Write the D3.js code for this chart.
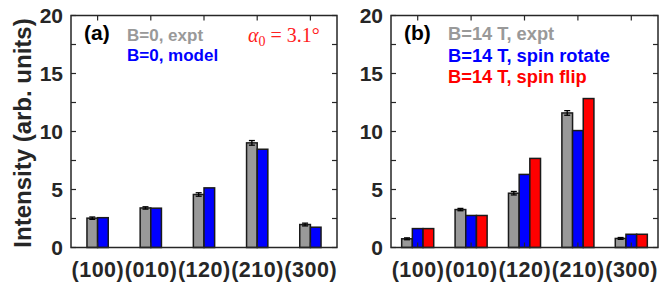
<!DOCTYPE html>
<html><head><meta charset="utf-8">
<script src="https://cdn.jsdelivr.net/npm/d3@7"></script>
<style>
body{margin:0;background:#fff;}
text{font-family:"Liberation Sans",Arial,sans-serif;font-weight:bold;}
</style></head>
<body><svg id="c" width="670" height="284"></svg>
<script>
const categories = ["(100)","(010)","(120)","(210)","(300)"];
const yTicks = [0,5,10,15,20];
// panel (a)
const aExpt = [2.53,3.41,4.57,9.02,1.98];
const aExptErr = [0.1,0.1,0.15,0.2,0.12];
const aModel = [2.57,3.39,5.14,8.47,1.75];
// panel (b)
const bExpt = [0.75,3.27,4.68,11.6,0.78];
const bExptErr = [0.08,0.1,0.15,0.2,0.08];
const bRotate = [1.63,2.76,6.3,10.08,1.14];
const bFlip = [1.63,2.76,7.68,12.84,1.14];

const GRAY="#999999", BLUE="#0000ff", RED="#ff0000", INK="#262626";
const svg = d3.select("#c");
const yTop=15.5, yBot=247.5;

function panel(x0,x1,series,colors,err,letter,legend,legX,legY0,legDy,legFs){
  const g = svg.append("g");
  const x = d3.scaleLinear().domain([0.5,5.5]).range([x0,x1]);
  const y = d3.scaleLinear().domain([0,20]).range([yBot,yTop]);
  const n = series.length, w = 0.2;
  series.forEach((vals,j)=>{
    g.selectAll(null).data(vals).enter().append("rect")
      .attr("x",(d,i)=>x(i+1+(j-(n-1)/2)*w-w/2))
      .attr("width",x(w)-x(0))
      .attr("y",d=>y(d)).attr("height",d=>y(0)-y(d))
      .attr("fill",colors[j]).attr("stroke","#1a1a1a").attr("stroke-width",1.5);
  });
  const ex = i=>x(i+1+(0-(n-1)/2)*w);
  series[0].forEach((v,i)=>{
    const e=err[i], cx=ex(i);
    g.append("line").attr("x1",cx).attr("x2",cx).attr("y1",y(v-e)).attr("y2",y(v+e)).attr("stroke","#000").attr("stroke-width",1.3);
    [v-e,v+e].forEach(t=>g.append("line").attr("x1",cx-3).attr("x2",cx+3).attr("y1",y(t)).attr("y2",y(t)).attr("stroke","#000").attr("stroke-width",1.3));
  });
  const minor = d3.range(0,20.01,2.5);
  const ax = g.append("g").attr("stroke",INK).attr("stroke-width",1.2);
  minor.forEach(t=>{
    ax.append("line").attr("x1",x0).attr("x2",x0+5).attr("y1",y(t)).attr("y2",y(t));
    ax.append("line").attr("x1",x1).attr("x2",x1-5).attr("y1",y(t)).attr("y2",y(t));
  });
  categories.forEach((c,i)=>{
    ax.append("line").attr("x1",x(i+1)).attr("x2",x(i+1)).attr("y1",yBot).attr("y2",yBot-5);
    ax.append("line").attr("x1",x(i+1)).attr("x2",x(i+1)).attr("y1",yTop).attr("y2",yTop+5);
  });
  g.append("rect").attr("x",x0).attr("y",yTop).attr("width",x1-x0).attr("height",yBot-yTop)
    .attr("fill","none").attr("stroke",INK).attr("stroke-width",1.5);
  g.selectAll(null).data(yTicks).enter().append("text")
    .attr("x",x0-8).attr("y",d=>y(d)).attr("dy","0.36em").attr("text-anchor","end")
    .attr("font-size",21).attr("fill",INK).text(d=>d);
  g.selectAll(null).data(categories).enter().append("text")
    .attr("x",(d,i)=>x(i+1)+0.3).attr("y",277).attr("text-anchor","middle")
    .attr("font-size",21.5).attr("letter-spacing","0.5px").attr("fill",INK).text(d=>d);
  g.append("text").attr("x",x0+13).attr("y",40).attr("font-size",21).attr("fill","#000").text(letter);
  legend.forEach((t,j)=>g.append("text").attr("x",legX).attr("y",legY0+j*legDy)
    .attr("font-size",legFs).attr("fill",colors[j]).text(t));
}

panel(71,337,[aExpt,aModel],[GRAY,BLUE],aExptErr,"(a)",["B=0, expt","B=0, model"],127,41,20,17);
panel(391,658,[bExpt,bRotate,bFlip],[GRAY,BLUE,RED],bExptErr,"(b)",
  ["B=14 T, expt","B=14 T, spin rotate","B=14 T, spin flip"],448,40,21.5,18.3);

const at = svg.append("text").attr("x",248).attr("y",42).attr("fill","#ff2020")
  .style("font-family","'Liberation Serif','Times New Roman',serif").style("font-weight","normal").attr("font-size",20);
at.append("tspan").style("font-style","italic").text("α");
at.append("tspan").attr("dy",4).attr("font-size",14).text("0");
at.append("tspan").attr("dy",-4).text(" = 3.1°");

svg.append("text").attr("transform","translate(31,133) rotate(-90)").attr("text-anchor","middle")
  .attr("font-size",24).attr("fill",INK).text("Intensity (arb. units)");
</script></body></html>
